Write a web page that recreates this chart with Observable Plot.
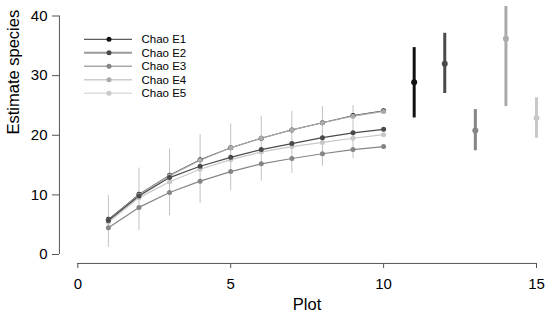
<!DOCTYPE html>
<html><head><meta charset="utf-8">
<script src="https://cdn.jsdelivr.net/npm/d3@7"></script>
<script src="https://cdn.jsdelivr.net/npm/@observablehq/plot@0.6"></script>
<style>body{margin:0;background:#fff;font-family:"Liberation Sans",Arial,sans-serif}</style>
</head><body><div id="chart"></div>
<script>
const plots = [1, 2, 3, 4, 5, 6, 7, 8, 9, 10];
const chaoE1 = [5.9, 10.1, 13.3, 15.9, 17.9, 19.5, 20.9, 22.1, 23.3, 24.1];
const chaoE2 = [5.7, 9.8, 12.9, 14.8, 16.3, 17.6, 18.6, 19.6, 20.4, 21.0];
const chaoE3 = [4.5, 7.9, 10.4, 12.3, 13.9, 15.2, 16.1, 16.9, 17.6, 18.1];
const chaoE4 = [5.8, 10.0, 13.2, 15.8, 17.9, 19.5, 20.9, 22.1, 23.2, 24.0];
const chaoE5 = [5.4, 9.5, 12.2, 14.3, 15.9, 17.2, 18.1, 18.8, 19.5, 20.1];
const ciLow  = [1.2, 4.0, 6.5, 8.6, 10.7, 12.3, 13.6, 14.8, 16.1, 21.0];
const ciHigh = [9.9, 14.5, 17.7, 20.1, 21.9, 23.2, 24.0, 24.8, 25.0, 21.0];

const finalX    = [11, 12, 13, 14, 15];
const finalMean = [28.9, 32.0, 20.8, 36.2, 22.9];
const finalLow  = [22.9, 27.0, 17.4, 24.8, 19.5];
const finalHigh = [34.7, 37.1, 24.3, 41.6, 26.3];

const seriesNames = ["Chao E1", "Chao E2", "Chao E3", "Chao E4", "Chao E5"];
const seriesColors = ["#111111", "#4a4a4a", "#858585", "#ababab", "#c8c8c8"];
const yTicks = [0, 10, 20, 30, 40];
const xTicks = [0, 5, 10, 15];

const curves = [chaoE1, chaoE2, chaoE3, chaoE4, chaoE5];
const toRows = i => plots.map((p, j) => ({series: seriesNames[i], x: p, y: curves[i][j]}));
const e1Data = toRows(0);
const otherData = [3, 4, 1, 2].flatMap(toRows);
const curveData = [...e1Data, ...otherData];
const ciData = plots.map((p, j) => ({x: p, lo: ciLow[j], hi: ciHigh[j]}));
const finalData = finalX.map((x, i) => ({series: seriesNames[i], x, m: finalMean[i], lo: finalLow[i], hi: finalHigh[i]}));

const chart = Plot.plot({
  width: 550, height: 320,
  marginLeft: 59, marginRight: 0, marginTop: 5, marginBottom: 57,
  style: {fontFamily: '"Liberation Sans", Arial, sans-serif', color: "#000", background: "#fff"},
  x: {domain: [0, 15], range: [77.3, 536]},
  y: {domain: [0, 40], range: [254, 15.5]},
  color: {domain: seriesNames, range: seriesColors},
  marks: [
    Plot.ruleX([-0.6], {y1: 0, y2: 40, stroke: "#555"}),
    Plot.ruleY([-1.5], {x1: 0, x2: 15, stroke: "#555"}),
    Plot.axisY({ticks: yTicks, tickSize: 7, tickPadding: 5, fontSize: 15, stroke: "#555", label: null}),
    Plot.axisX({ticks: xTicks, tickSize: 5, tickPadding: 10, fontSize: 15, stroke: "#555", label: null}),
    Plot.text(["Estimate species"], {frameAnchor: "left", rotate: -90, dx: -46, fontSize: 16.5}),
    Plot.text(["Plot"], {frameAnchor: "bottom", dy: 46, dx: 2, fontSize: 16.5}),
    Plot.ruleX(ciData, {x: "x", y1: "lo", y2: "hi", stroke: "#c2c2c2", strokeWidth: 1}),
    Plot.line(e1Data, {x: "x", y: "y", stroke: "series", strokeWidth: 0.8}),
    Plot.line(otherData, {x: "x", y: "y", z: "series", stroke: "series", strokeWidth: 1.2}),
    Plot.dot(curveData, {x: "x", y: "y", fill: "series", r: 2.5}),
    Plot.ruleX(finalData, {x: "x", y1: "lo", y2: "hi", stroke: "series", strokeWidth: 3}),
    Plot.dot(finalData, {x: "x", y: "m", fill: "series", r: 3})
  ]
});
document.getElementById("chart").appendChild(chart);

// legend
const legendLineWidths = [1, 2, 1.5, 1.5, 1.5];
const legendLineColors = ["#333333", "#9a9a9a", "#a8a8a8", "#cccccc", "#dddddd"];
const svg = d3.select(chart);
const lg = svg.append("g").attr("font-family", '"Liberation Sans", Arial, sans-serif')
  .attr("font-size", 11.5).attr("text-anchor", "start");
seriesNames.forEach((name, i) => {
  const y = 39.3 + i * 13.5;
  lg.append("line").attr("x1", 84).attr("x2", 132).attr("y1", y).attr("y2", y)
    .attr("stroke", legendLineColors[i]).attr("stroke-width", legendLineWidths[i]);
  lg.append("circle").attr("cx", 109).attr("cy", y).attr("r", 2.5).attr("fill", seriesColors[i]);
  lg.append("text").attr("x", 141.5).attr("y", y).attr("dy", "0.36em").attr("fill", "#000").text(name);
});
</script>
</body></html>
